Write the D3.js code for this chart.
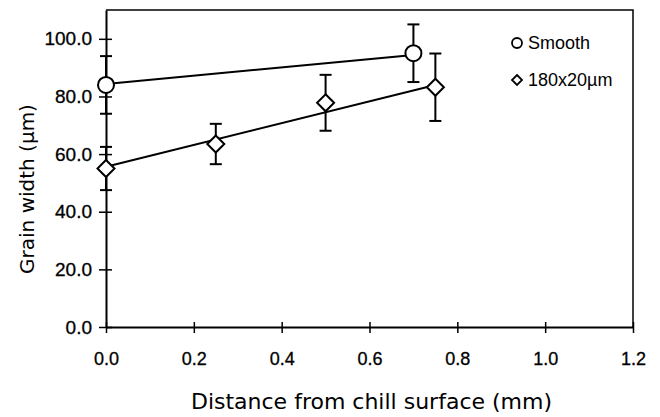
<!DOCTYPE html>
<html>
<head>
<meta charset="utf-8">
<script src="https://cdn.jsdelivr.net/npm/d3@7"></script>
<style>
  body { margin: 0; background: #fff; }
  svg text { fill: #000; }
</style>
</head>
<body>
<svg id="chart"></svg>
<script>
// data
var distSmooth = [0.0, 0.7];
var widthSmooth = [84.0, 95.0];
var errSmooth = [10.0, 10.0];
var distRough = [0.0, 0.25, 0.5, 0.75];
var widthRough = [55.0, 63.5, 77.8, 83.2];
var errRough = [7.5, 7.0, 9.7, 11.7];
// fitted lines (end points)
var fitSmooth = [[0.0, 84.3], [0.7, 94.4]];
var fitRough = [[0.0, 55.6], [0.75, 84.0]];
var xTicks = [0, 0.2, 0.4, 0.6, 0.8, 1.0, 1.2];
var yTicks = [0, 20, 40, 60, 80, 100];
var legendNames = ["Smooth", "180x20\u00b5m"];

var W = 660, H = 417;
var margin = {top: 10, right: 27, bottom: 90, left: 106};

var svg = d3.select("#chart")
    .attr("width", W)
    .attr("height", H);

var x = d3.scaleLinear().domain([0, 1.2]).range([margin.left, W - margin.right]);
var y = d3.scaleLinear().domain([0, 110]).range([H - margin.bottom, margin.top]);

// frame top/right
svg.append("path")
    .attr("d", "M" + x(0) + "," + y(110) + "H" + x(1.2) + "V" + y(0))
    .attr("fill", "none")
    .attr("stroke", "#000")
    .attr("stroke-width", 1.5);

// x axis
var xAxis = svg.append("g")
    .attr("transform", "translate(0," + y(0) + ")")
    .call(d3.axisBottom(x).tickValues(xTicks).tickSize(0).tickPadding(25)
      .tickFormat(d3.format(".1f")));
xAxis.select(".domain").attr("stroke-width", 2);
xAxis.selectAll(".tick").append("line")
    .attr("y1", -5).attr("y2", 6)
    .attr("stroke", "#000").attr("stroke-width", 1.5);
xAxis.selectAll("text")
    .style("font-family", "Liberation Sans, Arial, sans-serif")
    .style("font-size", "18px")
    .attr("stroke", "#000").attr("stroke-width", 0.3);

// y axis
var yAxis = svg.append("g")
    .attr("transform", "translate(" + x(0) + ",0)")
    .call(d3.axisLeft(y).tickValues(yTicks).tickSize(0).tickPadding(14)
      .tickFormat(d3.format(".1f")));
yAxis.select(".domain").attr("stroke-width", 2);
yAxis.selectAll(".tick").append("line")
    .attr("x1", -7).attr("x2", 6)
    .attr("stroke", "#000").attr("stroke-width", 1.5);
yAxis.selectAll("text")
    .style("font-family", "Liberation Sans, Arial, sans-serif")
    .style("font-size", "19px")
    .attr("stroke", "#000").attr("stroke-width", 0.3);

// axis titles
svg.append("text")
    .attr("x", (x(0) + x(1.2)) / 2 + 2)
    .attr("y", 409)
    .attr("text-anchor", "middle")
    .style("font-family", "DejaVu Sans, sans-serif")
    .style("font-size", "22px")
    .text("Distance from chill surface (mm)");

svg.append("text")
    .attr("transform", "translate(34," + 189 + ") rotate(-90)")
    .attr("text-anchor", "middle")
    .style("font-family", "DejaVu Sans, sans-serif")
    .style("font-size", "20px")
    .text("Grain width (\u00b5m)");

var line = d3.line().x(function(d){ return x(d[0]); }).y(function(d){ return y(d[1]); });

svg.append("path").attr("d", line(fitSmooth))
    .attr("fill", "none").attr("stroke", "#000").attr("stroke-width", 2);
svg.append("path").attr("d", line(fitRough))
    .attr("fill", "none").attr("stroke", "#000").attr("stroke-width", 2);

function errorBars(xs, ys, es) {
  var g = svg.append("g").attr("stroke", "#000").attr("stroke-width", 2);
  xs.forEach(function(d, i) {
    var cx = x(d), top = y(ys[i] + es[i]), bot = y(ys[i] - es[i]);
    g.append("line").attr("x1", cx).attr("x2", cx).attr("y1", top).attr("y2", bot);
    g.append("line").attr("x1", cx - 6).attr("x2", cx + 6).attr("y1", top).attr("y2", top);
    g.append("line").attr("x1", cx - 6).attr("x2", cx + 6).attr("y1", bot).attr("y2", bot);
  });
}
errorBars(distSmooth, widthSmooth, errSmooth);
errorBars(distRough, widthRough, errRough);

svg.selectAll(".pt-smooth").data(distSmooth).enter().append("circle")
    .attr("cx", function(d){ return x(d); })
    .attr("cy", function(d, i){ return y(widthSmooth[i]); })
    .attr("r", 8)
    .attr("fill", "#fff").attr("stroke", "#000").attr("stroke-width", 2);

var diamond = function(cx, cy, r) {
  return "M" + cx + "," + (cy - r) + "L" + (cx + r) + "," + cy + "L" + cx + "," + (cy + r) + "L" + (cx - r) + "," + cy + "Z";
};
svg.selectAll(".pt-rough").data(distRough).enter().append("path")
    .attr("d", function(d, i){ return diamond(x(d), y(widthRough[i]), 8.5); })
    .attr("fill", "#fff").attr("stroke", "#000").attr("stroke-width", 2);

// legend
var lg = svg.append("g").attr("transform", "translate(517,43)");
lg.append("circle").attr("cx", 0).attr("cy", 0).attr("r", 5)
    .attr("fill", "#fff").attr("stroke", "#000").attr("stroke-width", 1.8);
lg.append("path").attr("d", diamond(0, 37, 5))
    .attr("fill", "#fff").attr("stroke", "#000").attr("stroke-width", 1.8);
lg.selectAll("text").data(legendNames).enter().append("text")
    .attr("x", 11)
    .attr("y", function(d, i){ return i * 37 + 6; })
    .style("font-family", "Liberation Sans, Arial, sans-serif")
    .style("font-size", "18px")
    .text(function(d){ return d; });
</script>
</body>
</html>
